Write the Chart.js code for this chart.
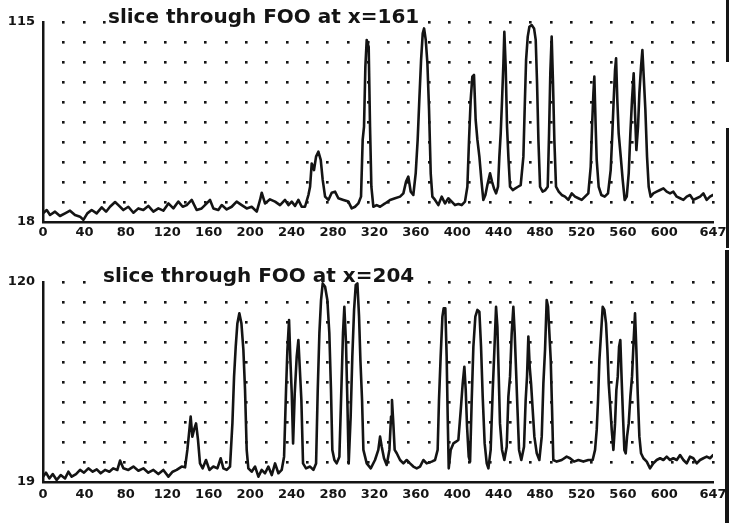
<!DOCTYPE html>
<html><head><meta charset="utf-8">
<script src="https://cdn.jsdelivr.net/npm/chart.js@4.4.1/dist/chart.umd.min.js"></script>
<style>
html,body{margin:0;padding:0;background:#fff;}
#wrap{position:relative;width:751px;height:523px;overflow:hidden;background:#fff;}
#c1{position:absolute;left:0;top:0;}
#c2{position:absolute;left:0;top:250px;}
.edge{position:absolute;background:#151515;}
</style></head><body>
<div id="wrap">
<canvas id="c1" width="751" height="250"></canvas>
<canvas id="c2" width="751" height="273"></canvas>
<div class="edge" style="left:726px;top:0;width:3px;height:62px"></div>
<div class="edge" style="left:726px;top:128px;width:3px;height:120px"></div>
<div class="edge" style="left:725px;top:250px;width:4px;height:273px"></div>
</div>
<script>
// ---- data ----
const TITLE_TOP = "slice through FOO at x=161";
const TITLE_BOTTOM = "slice through FOO at x=204";
const X_MIN = 0, X_MAX = 647;
const X_TICKS = [0,40,80,120,160,200,240,280,320,360,400,440,480,520,560,600,647];
const TOP_RANGE = [18, 115];
const BOTTOM_RANGE = [19, 120];
const GRID_COLS = 33, GRID_ROWS = 10;

const topX = [0,3.6,6.8,11.6,16.4,21.3,26.1,30.9,35.8,39.0,
42.8,47.0,51.8,56.7,60.9,64.7,69.6,72.8,77.6,82.4,
87.3,92.1,96.9,101.7,106.6,111.4,116.2,121.1,125.9,130.7,
134.9,138.8,143.6,148.4,153.2,158.1,161.3,164.5,169.3,172.6,
177.4,182.2,187.0,191.9,196.7,201.5,206.4,209.6,211.2,214.4,
219.2,224.1,228.9,233.7,237.0,240.2,243.4,246.6,249.8,253.0,
256.3,257.9,259.5,261.7,263.7,265.9,268.2,270.1,272.4,275.6,
278.8,282.0,285.2,290.1,294.9,298.1,301.3,304.5,307.1,308.7,
310.0,311.3,312.6,314.5,315.8,317.1,319.0,322.2,
325.5,330.3,335.1,340.0,344.8,348.0,350.6,352.8,355.1,357.6,
359.9,361.8,363.4,365.1,366.7,368.0,369.6,371.2,372.8,374.4,
376.0,378.6,381.8,385.0,388.2,391.4,394.7,397.9,401.1,404.3,
407.5,409.8,411.4,413.0,414.6,416.2,417.8,419.5,421.4,423.3,
425.2,427.2,429.1,431.7,433.6,435.5,437.5,439.4,440.7,442.0,
443.3,444.6,445.5,446.8,448.1,449.4,451.0,453.6,456.1,458.7,
461.3,463.9,465.2,466.5,468.1,469.7,471.9,474.2,475.8,477.1,
478.4,480.0,482.5,485.1,487.4,488.7,489.9,491.2,492.5,493.8,
495.4,498.0,500.9,504.1,507.3,510.6,513.8,517.0,520.2,523.4,
526.6,528.9,530.2,531.5,532.4,533.7,534.7,536.6,539.2,542.4,
545.6,548.2,549.8,551.1,552.4,553.4,554.6,555.9,557.9,559.8,
561.7,563.7,565.6,567.2,568.8,570.4,571.7,573.0,574.6,575.9,
577.5,578.8,580.1,581.7,583.3,584.9,586.8,589.4,592.6,595.9,
599.1,602.3,605.5,608.7,612.0,615.2,618.4,621.6,624.8,628.0,
631.3,634.5,637.7,640.9,644.1,647];
const topY = [22.2,23.8,21.4,23.0,20.9,22.2,23.5,21.4,20.6,19.0,
22.2,23.8,22.2,25.1,23.0,25.4,27.7,26.2,23.8,25.4,
22.5,24.6,23.8,25.8,23.0,24.6,23.5,27.0,24.6,27.9,
25.4,26.2,28.7,23.8,24.6,27.0,28.7,24.6,23.8,26.2,
24.1,25.4,27.9,26.2,24.6,25.4,23.0,28.7,32.2,27.0,
29.0,27.9,26.2,28.7,26.2,27.9,25.8,28.7,25.4,25.4,
31.1,35.1,46.4,43.2,49.7,52.1,48.1,38.4,30.3,28.7,
32.2,32.7,29.5,28.7,27.9,24.6,25.4,27.0,30.3,57.8,
64.2,93.3,106.3,103.0,64.2,35.1,25.4,26.2,
25.4,27.0,28.7,29.5,30.3,31.9,37.6,40.0,32.7,31.1,
41.6,57.8,77.2,96.6,109.5,111.9,106.3,95.0,72.3,41.6,
30.3,28.7,26.2,30.3,27.0,29.5,27.9,26.2,26.7,26.2,
27.9,35.1,57.8,77.2,88.5,89.3,67.5,57.8,49.7,38.4,
28.7,31.1,35.9,41.6,37.6,34.3,31.9,35.1,49.7,61.0,
77.2,95.0,110.3,93.3,64.2,49.7,35.1,33.5,34.3,35.1,
35.9,49.7,73.9,96.6,107.9,112.7,113.5,111.9,106.3,85.3,
57.8,35.1,32.7,33.5,35.1,61.0,90.1,107.9,85.3,57.8,
35.1,32.7,31.1,30.3,28.7,31.9,30.3,29.5,28.7,30.3,
31.9,44.8,64.2,80.4,88.5,64.2,48.1,35.1,31.1,30.3,
31.9,43.2,61.0,77.2,91.7,97.4,77.2,61.0,49.7,38.4,
28.7,30.3,41.6,61.0,77.2,90.1,70.7,52.9,64.2,80.4,
93.3,101.4,88.5,72.3,49.7,35.1,30.3,31.9,32.7,33.5,
34.3,32.7,31.9,32.7,30.3,29.5,28.7,30.3,31.1,28.7,
29.5,30.3,31.9,28.7,30.3,31.1];

const botX = [0,2.9,6.1,9.4,13.2,17.1,21.3,24.5,27.7,31.9,
35.8,39.6,43.8,48.0,51.9,55.7,59.9,64.1,67.9,71.8,
74.4,77.6,82.4,87.3,92.1,96.9,101.7,106.6,111.4,116.2,
121.1,125.2,129.1,133.9,137.2,139.4,140.7,142.6,144.2,145.8,
147.8,149.7,151.6,154.2,157.4,160.7,164.5,168.4,171.6,174.2,
177.4,180.6,182.9,184.5,186.1,187.7,189.6,191.6,193.5,195.1,
196.7,198.3,201.5,204.8,208.0,211.2,214.4,217.6,220.9,224.1,
227.3,230.5,232.8,234.7,236.0,237.6,238.9,240.2,241.5,243.1,
245.0,246.6,247.9,249.5,251.1,254.0,257.9,261.1,263.7,265.3,
266.9,268.5,270.1,272.4,274.6,276.5,278.1,279.4,281.4,283.6,
286.2,288.1,289.7,291.0,292.6,293.9,295.2,297.1,298.7,300.4,
302.0,303.6,305.2,306.5,308.1,309.4,312.6,316.5,320.6,
323.8,325.5,327.1,329.3,331.9,334.5,336.1,337.0,338.3,339.6,
341.6,344.8,348.0,351.2,354.4,357.6,360.9,364.1,367.3,370.5,
375.4,378.6,381.1,382.4,384.0,385.7,386.9,388.5,389.8,390.8,
391.8,393.7,396.3,398.9,401.1,403.4,405.3,406.9,408.2,409.5,
411.1,412.4,414.0,415.6,417.5,419.5,421.4,423.0,424.6,426.5,
428.5,430.1,432.3,434.3,435.9,437.5,438.8,440.1,441.3,443.3,
445.5,447.8,449.4,451.0,452.6,454.2,455.5,456.8,458.1,459.7,
461.9,464.5,466.1,467.4,468.7,470.0,471.3,472.9,474.5,476.8,
479.3,481.6,483.2,484.8,486.4,487.7,489.0,490.3,491.6,492.8,
496.1,500.9,505.7,508.9,512.8,517.0,521.8,526.6,530.8,533.1,
534.7,536.0,537.3,538.9,540.5,542.1,543.7,545.0,546.3,547.6,
549.2,550.8,552.4,553.7,555.0,556.3,557.5,558.8,560.1,561.4,
562.7,564.0,565.6,567.2,568.8,570.4,571.7,573.0,574.3,575.9,
577.5,579.8,583.0,586.2,589.4,592.6,595.9,599.1,602.3,605.5,
608.7,612.0,615.2,618.4,621.6,624.8,628.0,631.3,634.5,637.7,
640.9,644.1,647];
const botY = [21.7,23.7,20.8,23.0,20.0,22.5,20.8,24.2,21.7,23.0,
25.1,23.7,25.9,24.2,25.4,23.4,25.1,24.2,25.9,25.1,
29.8,25.9,25.1,26.8,24.7,25.9,23.7,25.1,23.0,25.1,
21.7,24.2,25.1,26.8,26.4,35.2,41.9,52.0,41.9,45.3,
48.6,40.2,28.4,25.9,30.1,25.1,26.8,25.9,31.0,25.9,
25.1,26.8,48.6,72.2,87.3,99.1,104.2,99.1,85.7,65.5,
35.2,25.9,24.2,26.8,21.7,25.1,23.4,26.8,22.5,28.4,
23.4,25.1,31.8,65.5,85.7,100.8,80.6,63.8,38.5,63.8,
82.3,90.7,77.2,60.4,28.4,25.9,26.8,25.1,28.4,65.5,
94.1,110.9,119.3,117.6,110.9,94.1,65.5,35.2,30.1,28.4,
31.8,65.5,94.1,107.5,89.0,60.4,28.4,52.0,82.3,105.9,
118.5,119.3,102.5,80.6,60.4,35.2,28.4,25.9,30.1,
35.2,41.9,36.8,31.0,27.6,35.2,52.0,60.4,48.6,35.2,
33.5,30.1,28.4,30.1,28.4,26.8,25.9,26.8,30.1,28.4,
29.3,30.1,35.2,60.4,82.3,102.5,106.7,106.7,82.3,52.0,
25.9,35.2,38.5,39.4,40.2,55.3,68.8,77.2,65.5,46.9,
31.8,29.3,60.4,87.3,102.5,105.9,105.0,87.3,62.1,38.5,
28.4,25.9,35.2,65.5,85.7,107.5,97.4,72.2,48.6,35.2,
30.1,36.8,62.1,72.2,94.1,107.5,94.1,75.6,57.0,35.2,
30.1,36.8,60.4,72.2,92.4,77.2,68.8,55.3,41.9,33.5,
30.1,41.9,68.8,85.7,110.9,107.5,94.1,80.6,55.3,30.1,
29.3,30.1,31.8,31.0,29.3,30.1,29.3,30.1,30.1,35.2,
45.3,60.4,80.6,94.1,107.5,105.9,99.1,85.7,68.8,58.7,
45.3,35.2,48.6,65.5,72.2,87.3,90.7,70.5,52.0,35.2,
33.5,41.9,48.6,62.1,72.2,90.7,104.2,85.7,63.8,41.9,
33.5,31.0,29.3,25.9,28.4,30.1,31.0,30.1,31.8,30.1,
31.0,30.1,32.6,30.1,28.4,31.8,31.0,28.4,30.1,31.0,
31.8,31.0,32.6];

// ---- drawing ----
const INK = '#141414';
const FONT = {family: "'DejaVu Sans', sans-serif", weight: 'bold', size: 13};

const decorPlugin = {
  id: 'decor',
  beforeDatasetsDraw(chart) {
    const o = chart.options.plugins.decor;
    const {ctx, scales: {x, y}} = chart;
    ctx.save();
    ctx.fillStyle = INK;
    for (let i = 1; i <= GRID_COLS; i++) {
      const px = x.getPixelForValue(X_MIN + (X_MAX - X_MIN) * i / GRID_COLS);
      for (let j = 1; j <= GRID_ROWS; j++) {
        const py = y.getPixelForValue(o.range[0] + (o.range[1] - o.range[0]) * j / GRID_ROWS);
        ctx.fillRect(Math.round(px) - 1, Math.round(py) - 1, 2.6, 2.6);
      }
    }
    ctx.font = "bold 20px 'DejaVu Sans', sans-serif";
    const w = ctx.measureText(o.title).width;
    ctx.fillStyle = '#fff';
    ctx.fillRect(o.tx - 2, o.ty - 17, w + 4, 19);
    ctx.fillStyle = INK;
    ctx.textBaseline = 'alphabetic';
    ctx.fillText(o.title, o.tx, o.ty);
    ctx.restore();
  }
};

function makeChart(id, xs, ys, range, title, tx, ty, padTop, xHeight, xPad) {
  const pts = xs.map((v, i) => ({x: v, y: ys[i]}));
  return new Chart(document.getElementById(id), {
    type: 'line',
    data: {datasets: [{data: pts, borderColor: INK, borderWidth: 2.6, pointRadius: 0,
      tension: 0, fill: false, borderJoinStyle: 'round', borderCapStyle: 'round'}]},
    options: {
      responsive: false, animation: false, devicePixelRatio: 1,
      layout: {padding: {top: padTop, right: 38, left: 0, bottom: 0}},
      plugins: {legend: {display: false}, tooltip: {enabled: false}, title: {display: false},
        decor: {range, title, tx, ty}},
      scales: {
        x: {type: 'linear', min: X_MIN, max: X_MAX,
          grid: {display: false, drawTicks: false},
          border: {display: true, color: INK, width: 2.5},
          ticks: {autoSkip: false, maxRotation: 0, minRotation: 0, padding: xPad, color: INK, font: FONT,
            callback: v => String(v)},
          afterBuildTicks: s => { s.ticks = X_TICKS.map(v => ({value: v})); },
          afterFit: s => { s.height = xHeight; }},
        y: {type: 'linear', min: range[0], max: range[1],
          grid: {display: false, drawTicks: false},
          border: {display: true, color: INK, width: 2.5},
          ticks: {padding: 8, color: INK, font: FONT, callback: v => String(v)},
          afterBuildTicks: s => { s.ticks = range.map(v => ({value: v})); },
          afterFit: s => { s.width = 43; }}
      }
    },
    plugins: [decorPlugin]
  });
}

makeChart('c1', topX, topY, TOP_RANGE, TITLE_TOP, 108, 23, 22, 28, 3);
makeChart('c2', botX, botY, BOTTOM_RANGE, TITLE_BOTTOM, 103, 32, 32, 41, 5);
</script>
</body></html>
